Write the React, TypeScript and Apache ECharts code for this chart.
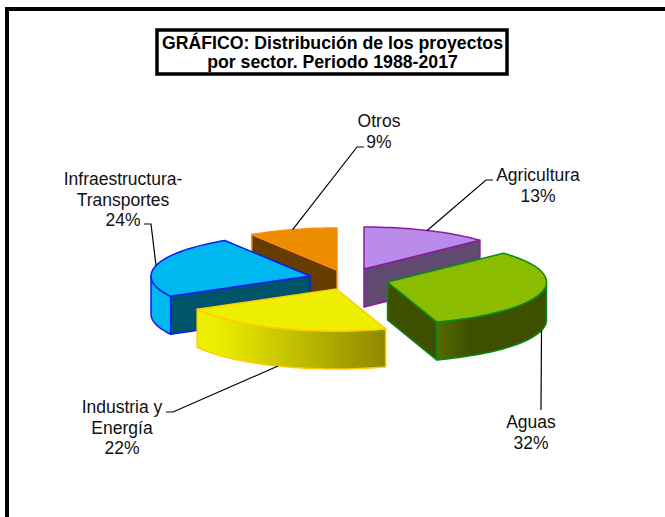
import React, { useEffect, useRef } from "react";
import * as echarts from "echarts";

const categories = ["Agricultura", "Aguas", "Industria y\nEnergía", "Infraestructura-\nTransportes", "Otros"];
const values = [13, 32, 22, 24, 9];
const titleText = "GRÁFICO: Distribución de los proyectos\npor sector. Periodo 1988-2017";

const topColors = ["#B98CEB", "#8CBC00", "#EEEE00", "#00B8F0", "#EE8C00"];
const wallColors = ["#604A70", "#3E5000", "#8F8800", "#005468", "#663C00"];
const edgeColors = ["#8E1A9E", "#0A8A1E", "#FFCC00", "#0A1EF0", "#FF8A10"];
const rimStops: [number, string][][] = [
  [[0, "#604A70"], [1, "#604A70"]],
  [[0, "#566C00"], [0.3, "#3E5000"], [1, "#3E5000"]],
  [[0, "#EEEE00"], [0.1, "#EEEE00"], [1, "#8F8800"]],
  [[0, "#00B8F0"], [1, "#00B8F0"]],
  [[0, "#663C00"], [1, "#663C00"]],
];
const apexes = [[364, 269], [387.5, 282], [336.5, 289], [310, 276], [337, 270]];
const drawOrder = [4, 0, 3, 1, 2];
const elbows = [[[486, 180], [493, 180]], [[541, 410]], [[173, 412], [166, 412]], [[151, 224], [144, 224]], [[357, 147], [364, 147]]];
const labelCenters = [[538, 175], [531, 422], [122, 407], [123, 179], [379, 121]];

const RX = 159;
const RY = 42;
const DEPTH = 38;
const FONT = "Liberation Sans, Arial, sans-serif";
const total = values.reduce((a, b) => a + b, 0);
const starts: number[] = [];
values.reduce((acc, v, i) => {
  starts[i] = (acc / total) * 360;
  return acc + v;
}, 0);

const pt = (apex: number[], deg: number, dy = 0) => {
  const r = (deg * Math.PI) / 180;
  return [apex[0] + RX * Math.sin(r), apex[1] - RY * Math.cos(r) + dy];
};
const arc = (apex: number[], a: number, b: number, dy = 0) => {
  const pts: number[][] = [];
  const n = Math.max(2, Math.ceil(Math.abs(b - a) / 2));
  for (let i = 0; i <= n; i++) pts.push(pt(apex, a + ((b - a) * i) / n, dy));
  return pts;
};

function renderSlice(_params: any, api: any) {
  const i = api.value(0) as number;
  const start = starts[i];
  const end = start + (api.value(1) / total) * 360;
  const apex = apexes[i];
  const lineW = 1.5;
  const children: any[] = [];
  const wall = (deg: number) => {
    const p = pt(apex, deg);
    children.push({
      type: "polygon",
      shape: { points: [apex, p, [p[0], p[1] + DEPTH], [apex[0], apex[1] + DEPTH]] },
      style: { fill: wallColors[i], stroke: edgeColors[i], lineWidth: lineW, lineJoin: "round" },
    });
  };
  if (start >= 180) wall(start);
  if (end <= 180) wall(end);
  const ra = Math.max(start, 90);
  const rb = Math.min(end, 270);
  if (rb > ra) {
    const top = arc(apex, ra, rb);
    const bottom = arc(apex, rb, ra, DEPTH);
    children.push({
      type: "polygon",
      shape: { points: [...top, ...bottom] },
      style: {
        fill: new echarts.graphic.LinearGradient(0, 0, 1, 0, rimStops[i].map(([offset, color]) => ({ offset, color }))),
        stroke: edgeColors[i],
        lineWidth: lineW,
        lineJoin: "round",
      },
    });
  }
  children.push({
    type: "polygon",
    shape: { points: [apex, ...arc(apex, start, end)] },
    style: { fill: topColors[i], stroke: edgeColors[i], lineWidth: lineW, lineJoin: "round" },
  });
  const mid = (start + end) / 2;
  const anchor = pt(apex, mid, mid > 90 && mid < 270 ? DEPTH : 0);
  children.push({
    type: "polyline",
    shape: { points: [anchor, ...elbows[i]] },
    style: { fill: "none", stroke: "#000", lineWidth: 1.2 },
    z2: 5,
  });
  children.push({
    type: "text",
    style: {
      text: `${categories[i]}\n${api.value(1)}%`,
      x: labelCenters[i][0],
      y: labelCenters[i][1] - 10,
      fill: "#111",
      font: `17.5px ${FONT}`,
      lineHeight: 20.5,
      align: "center",
      verticalAlign: "top",
    },
    z2: 6,
  });
  return { type: "group", children };
}

export default function App() {
  const ref = useRef<HTMLDivElement>(null);
  useEffect(() => {
    document.body.style.margin = "0";
    const chart = echarts.init(ref.current!, undefined, { renderer: "svg" });
    chart.setOption({
      animation: false,
      backgroundColor: "#fff",
      graphic: [
        {
          type: "polyline",
          shape: { points: [[7, 517], [7, 9], [665, 9]] },
          style: { fill: "none", stroke: "#000", lineWidth: 4 },
        },
        {
          type: "rect",
          shape: { x: 157, y: 30, width: 350, height: 44 },
          style: { fill: "#fff", stroke: "#000", lineWidth: 3.5 },
        },
        {
          type: "text",
          style: {
            text: titleText,
            x: 332.5,
            y: 33,
            fill: "#000",
            font: `bold 17.7px ${FONT}`,
            lineHeight: 19.5,
            align: "center",
            verticalAlign: "top",
          },
        },
      ],
      series: [
        {
          type: "custom",
          coordinateSystem: "none",
          renderItem: renderSlice,
          data: drawOrder.map((i) => [i, values[i]]),
        },
      ],
    });
    return () => chart.dispose();
  }, []);
  return <div ref={ref} style={{ width: 665, height: 517 }} />;
}
